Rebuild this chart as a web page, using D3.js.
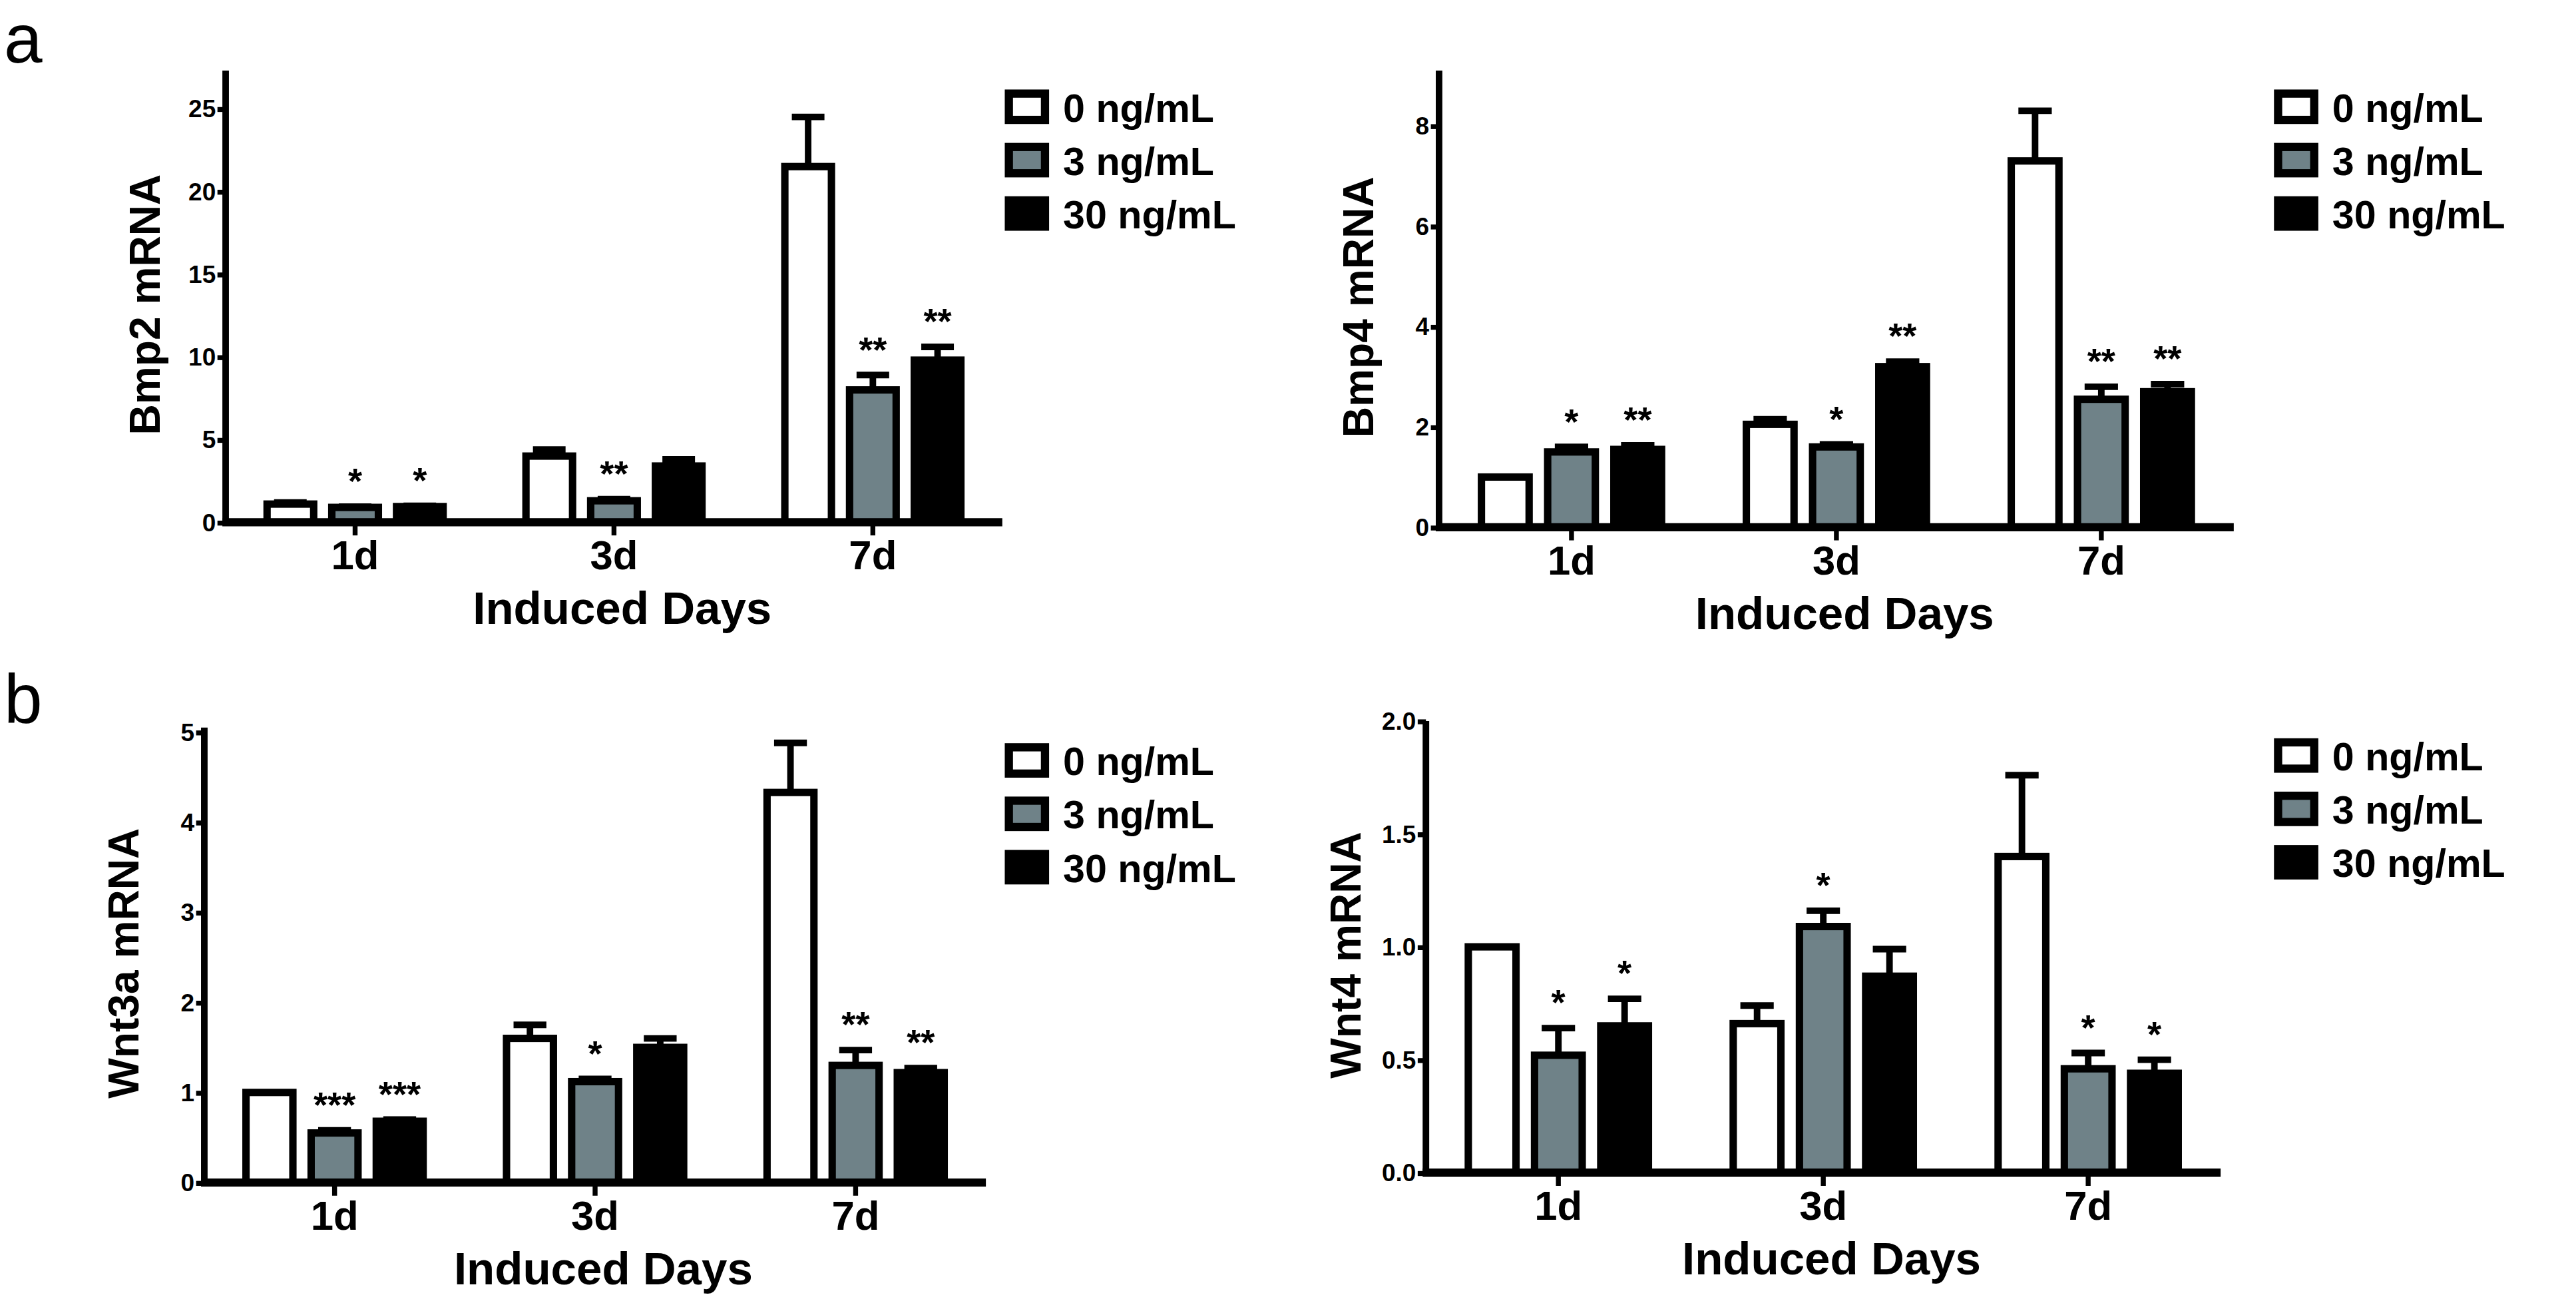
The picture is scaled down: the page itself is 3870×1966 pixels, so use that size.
<!DOCTYPE html>
<html>
<head>
<meta charset="utf-8">
<script src="https://cdn.jsdelivr.net/npm/d3@7"></script>
<style>
  body { margin: 0; background: #fff; }
  text { font-family: "Liberation Sans Narrow", "Liberation Sans", Arial, sans-serif; font-weight: bold; }
</style>
</head>
<body>
<svg id="fig" width="3870" height="1966" viewBox="0 0 1568 797"></svg>
<script>
// dose groups and colours
var doses = ["0 ng/mL", "3 ng/mL", "30 ng/mL"];
var fills = ["#ffffff", "#6f8288", "#000000"];
var days = ["1d", "3d", "7d"];

// values: [mean, sem, stars] for each day x dose
var panels = [
  { gene: "Bmp2 mRNA", left: 137, right: 610, top: 43, bottom: 318, max: 27.3,
    ticks: [0, 5, 10, 15, 20, 25], fmt: d3.format("d"), legendX: 612, legendY: 55,
    data: {
      "1d": [[1.1, 0.1, ""], [0.9, 0.05, "*"], [0.95, 0.05, "*"]],
      "3d": [[4.0, 0.4, ""], [1.3, 0.1, "**"], [3.4, 0.4, ""]],
      "7d": [[21.5, 3.0, ""], [8.0, 0.9, "**"], [9.8, 0.8, "**"]]
    } },
  { gene: "Bmp4 mRNA", left: 876, right: 1360, top: 43, bottom: 321, max: 9.1,
    ticks: [0, 2, 4, 6, 8], fmt: d3.format("d"), legendX: 1385, legendY: 55,
    data: {
      "1d": [[1.0, 0, ""], [1.5, 0.1, "*"], [1.55, 0.08, "**"]],
      "3d": [[2.05, 0.1, ""], [1.6, 0.05, "*"], [3.2, 0.1, "**"]],
      "7d": [[7.3, 1.0, ""], [2.55, 0.25, "**"], [2.7, 0.15, "**"]]
    } },
  { gene: "Wnt3a mRNA", left: 124, right: 600, top: 443, bottom: 720, max: 5.05,
    ticks: [0, 1, 2, 3, 4, 5], fmt: d3.format("d"), legendX: 612, legendY: 453,
    data: {
      "1d": [[1.0, 0, ""], [0.55, 0.03, "***"], [0.68, 0.02, "***"]],
      "3d": [[1.6, 0.15, ""], [1.12, 0.03, "*"], [1.5, 0.1, ""]],
      "7d": [[4.33, 0.55, ""], [1.3, 0.17, "**"], [1.22, 0.05, "**"]]
    } },
  { gene: "Wnt4 mRNA", left: 868, right: 1352, top: 439, bottom: 714, max: 2.0,
    ticks: [0, 0.5, 1.0, 1.5, 2.0], fmt: d3.format(".1f"), legendX: 1385, legendY: 450,
    data: {
      "1d": [[1.0, 0, ""], [0.52, 0.12, "*"], [0.65, 0.12, "*"]],
      "3d": [[0.66, 0.08, ""], [1.09, 0.07, "*"], [0.87, 0.12, ""]],
      "7d": [[1.4, 0.36, ""], [0.46, 0.07, "*"], [0.44, 0.06, "*"]]
    } }
];

var svg = d3.select("#fig");

// panel letters
svg.append("text").attr("x", 2).attr("y", 38).attr("font-size", 42)
  .style("font-weight", "normal").style("font-family", "Liberation Sans, Arial").text("a");
svg.append("text").attr("x", 2).attr("y", 440).attr("font-size", 42)
  .style("font-weight", "normal").style("font-family", "Liberation Sans, Arial").text("b");

function drawPanel(p) {
  var g = svg.append("g");
  var y = d3.scaleLinear().domain([0, p.max]).range([p.bottom, p.top]);
  var x0 = d3.scaleBand().domain(days).range([p.left, p.right])
    .paddingInner(0.32).paddingOuter(0.16);
  var x1 = d3.scaleBand().domain(d3.range(3)).range([0, x0.bandwidth()]).paddingInner(0.28);

  // bars + error bars
  days.forEach(function(day) {
    var grp = g.append("g").attr("transform", "translate(" + x0(day) + ",0)");
    p.data[day].forEach(function(v, i) {
      var bx = x1(i), bw = x1.bandwidth();
      var cx = bx + bw / 2;
      if (v[1] > 0) {
        grp.append("line").attr("x1", cx).attr("x2", cx)
          .attr("y1", y(v[0])).attr("y2", y(v[0] + v[1]))
          .attr("stroke", "#000").attr("stroke-width", 4);
        grp.append("line").attr("x1", cx - bw * 0.35).attr("x2", cx + bw * 0.35)
          .attr("y1", y(v[0] + v[1])).attr("y2", y(v[0] + v[1]))
          .attr("stroke", "#000").attr("stroke-width", 4);
      }
      grp.append("rect").attr("x", bx).attr("width", bw)
        .attr("y", y(v[0])).attr("height", y(0) - y(v[0]))
        .attr("fill", fills[i]).attr("stroke", "#000").attr("stroke-width", 4.5);
      if (v[2]) {
        grp.append("text").attr("x", cx).attr("y", y(v[0] + v[1]) - 8)
          .attr("text-anchor", "middle").attr("font-size", 22).text(v[2]);
      }
    });
  });

  // y axis
  var yAxis = g.append("g").attr("transform", "translate(" + p.left + ",0)")
    .call(d3.axisLeft(y).tickValues(p.ticks).tickFormat(p.fmt).tickSize(5).tickSizeOuter(0));
  yAxis.select(".domain").attr("stroke-width", 4).attr("d", "M0," + p.top + "V" + p.bottom);
  yAxis.selectAll(".tick line").attr("stroke-width", 3);
  yAxis.selectAll(".tick text").attr("font-size", 15).attr("x", -6).style("font-family", "Liberation Sans Narrow, Arial");

  // x axis
  var xAxis = g.append("g").attr("transform", "translate(0," + p.bottom + ")")
    .call(d3.axisBottom(x0).tickSize(8).tickSizeOuter(0));
  xAxis.select(".domain").attr("stroke-width", 5).attr("d", "M" + (p.left - 2) + ",0H" + p.right);
  xAxis.selectAll(".tick line").attr("stroke-width", 3);
  xAxis.selectAll(".tick text").attr("font-size", 25).attr("y", 11);

  g.append("text").attr("x", (p.left + p.right) / 2 + 5).attr("y", p.bottom + 62)
    .attr("text-anchor", "middle").attr("font-size", 28).style("font-family", "Liberation Sans, Arial").text("Induced Days");

  g.append("text").attr("transform", "translate(" + (p.left - 40) + "," + ((p.top + p.bottom) / 2 + 5) + ") rotate(-90)")
    .attr("text-anchor", "middle").attr("font-size", 26).style("font-family", "Liberation Sans, Arial").text(p.gene);

  // legend
  doses.forEach(function(d, i) {
    var ly = p.legendY + i * 32.5;
    g.append("rect").attr("x", p.legendX + 2).attr("y", ly + 2).attr("width", 22).attr("height", 16)
      .attr("fill", fills[i]).attr("stroke", "#000").attr("stroke-width", 5);
    g.append("text").attr("x", p.legendX + 35).attr("y", ly + 19).attr("font-size", 24)
      .style("font-family", "Liberation Sans, Arial").text(d);
  });
}

panels.forEach(drawPanel);
</script>
</body>
</html>
